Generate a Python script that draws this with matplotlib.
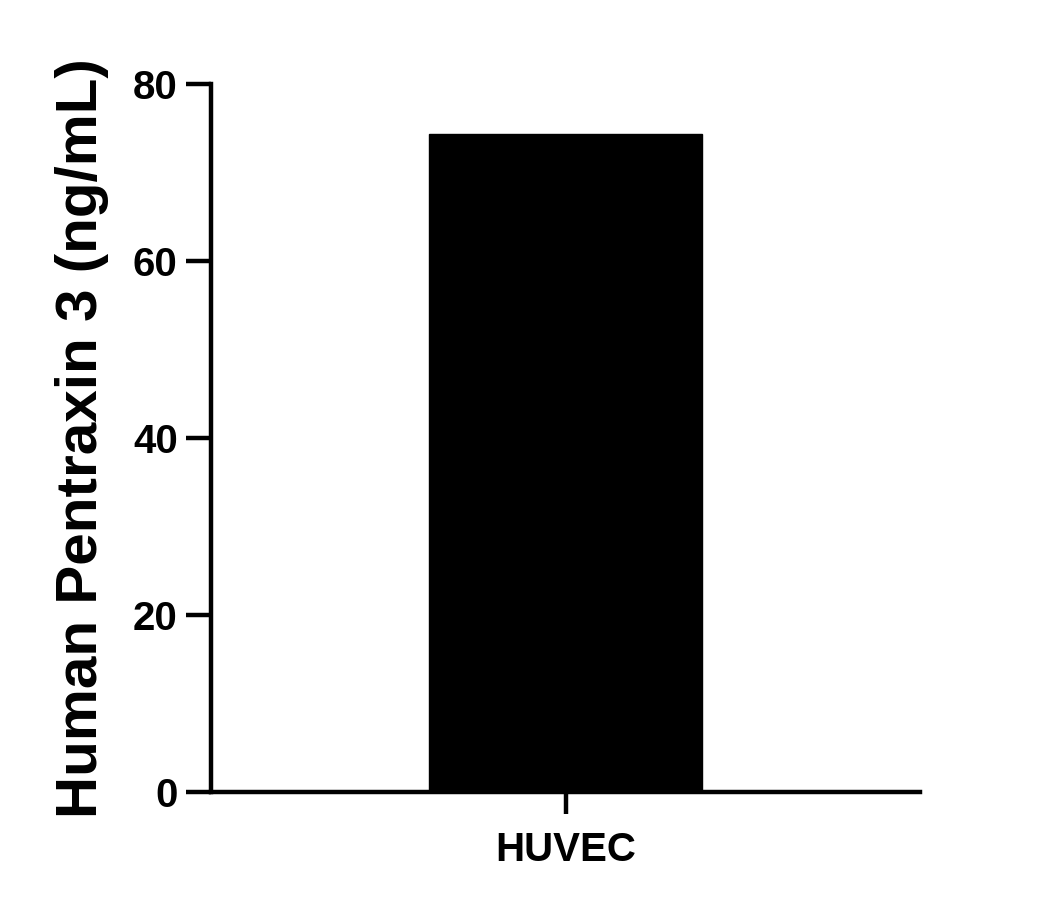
import matplotlib
matplotlib.use("Agg")
import matplotlib.pyplot as plt

categories = ["HUVEC"]
values = [74.4]
y_ticks = [0, 20, 40, 60, 80]

plt.rcParams['font.family'] = ['Liberation Sans', 'DejaVu Sans']
plt.rcParams['font.weight'] = 'bold'

fig = plt.figure(figsize=(10.53, 9.09), dpi=100)
ax = fig.add_axes([0.2004, 0.1287, 0.8737 - 0.2004, 0.9076 - 0.1287])

ax.bar(range(len(categories)), values, width=1.0, color='black', edgecolor='black')

ax.set_xlim(-1.3, 1.3)
ax.set_ylim(0, 80)
ax.set_yticks(y_ticks)
ax.set_xticks(range(len(categories)))
ax.set_xticklabels(categories)

for side in ['top', 'right']:
    ax.spines[side].set_visible(False)
for side in ['left', 'bottom']:
    ax.spines[side].set_linewidth(3.2)
ax.spines['left'].set_capstyle('projecting')

ax.tick_params(axis='y', length=18, width=3.2, labelsize=29, pad=6)
ax.tick_params(axis='x', length=16, width=3.2, labelsize=29, pad=12)
for lbl in ax.get_xticklabels() + ax.get_yticklabels():
    lbl.set_fontweight('bold')

ax.set_ylabel("Human Pentraxin 3 (ng/mL)", fontsize=42, fontweight='bold', labelpad=17)

fig.savefig("out.png", dpi=100)
